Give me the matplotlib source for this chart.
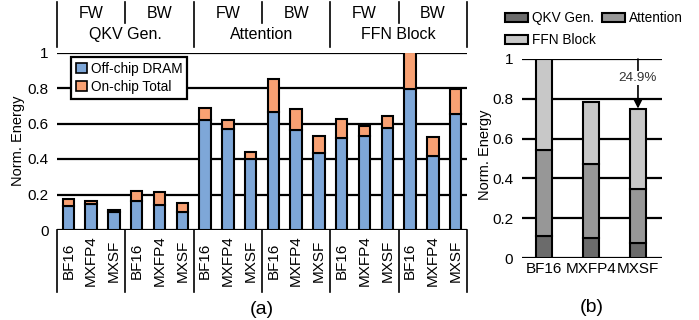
import matplotlib
matplotlib.use("Agg")
import matplotlib.pyplot as plt
from matplotlib.lines import Line2D
from matplotlib.patches import Patch
import matplotlib.transforms as mtransforms

plt.rcParams['font.family'] = ['Liberation Sans', 'DejaVu Sans']

# ---------------- data ----------------
formats = ["BF16", "MXFP4", "MXSF"]
phases = ["FW", "BW"]
blocks = ["QKV Gen.", "Attention", "FFN Block"]

# (a) per-bar values: order = block -> phase -> format
offchip_dram = [0.135, 0.145, 0.100, 0.165, 0.140, 0.100,
                0.620, 0.570, 0.400, 0.665, 0.562, 0.432,
                0.520, 0.530, 0.573, 0.795, 0.415, 0.655]
onchip_total = [0.040, 0.020, 0.015, 0.057, 0.072, 0.053,
                0.070, 0.047, 0.038, 0.187, 0.118, 0.098,
                0.107, 0.055, 0.072, 0.205, 0.110, 0.140]

# (b) breakdown per format
b_qkv = [0.110, 0.103, 0.073]
b_attn = [0.432, 0.367, 0.273]
b_ffn = [0.458, 0.312, 0.405]
reduction_label = "24.9%"

yticks = [0, 0.2, 0.4, 0.6, 0.8, 1.0]
ytick_labels = ["0", "0.2", "0.4", "0.6", "0.8", "1"]

BLUE = "#7ea7d8"
ORANGE = "#f8a173"
G_DARK = "#6b6b6b"
G_MID = "#979797"
G_LIGHT = "#c8c8c8"

fig = plt.figure(figsize=(6.99, 3.20), dpi=100)

# ---------------- (a) ----------------
axa = fig.add_axes([57 / 699, 90 / 320, 410 / 699, 177.5 / 320])
n = len(offchip_dram)
x = list(range(n))
for y in yticks:
    axa.axhline(y, color="black", lw=1.6, zorder=1)
axa.bar(x, offchip_dram, width=0.5, color=BLUE, edgecolor="black", lw=1.5, zorder=3)
axa.bar(x, onchip_total, width=0.5, bottom=offchip_dram, color=ORANGE,
        edgecolor="black", lw=1.5, zorder=3)
axa.set_xlim(-0.5, n - 0.5)
axa.set_ylim(0, 1)
for s in axa.spines.values():
    s.set_visible(False)
axa.set_yticks(yticks)
axa.set_yticklabels(ytick_labels, fontsize=11)
axa.tick_params(axis="y", length=0, pad=6)
axa.set_xticks([])
axa.set_ylabel("Norm. Energy", fontsize=10.5)
axa.yaxis.set_label_coords(-0.078, 0.5)

trans = mtransforms.blended_transform_factory(axa.transData, axa.transAxes)
# labels below bars
for i in range(n):
    axa.text(i, -0.175, formats[i % 3], rotation=90, ha="center", va="center",
             fontsize=11, transform=trans)
# dividers below
for k in range(7):
    xd = -0.5 + 3 * k
    axa.add_line(Line2D([xd, xd], [0, -0.349], color="black", lw=1.2,
                        transform=trans, clip_on=False))
# header dividers
for k in range(4):
    xd = -0.5 + 6 * k
    axa.add_line(Line2D([xd, xd], [1.031, 1.285], color="black", lw=1.2,
                        transform=trans, clip_on=False))
for k in range(3):
    xd = 2.5 + 6 * k
    axa.add_line(Line2D([xd, xd], [1.166, 1.285], color="black", lw=1.2,
                        transform=trans, clip_on=False))
for bi, b in enumerate(blocks):
    axa.text(2.5 + 6 * bi, 1.099, b, ha="center", va="center", fontsize=11.5,
             transform=trans)
    for pi, p in enumerate(phases):
        axa.text(1 + 6 * bi + 3 * pi, 1.2225, p, ha="center", va="center",
                 fontsize=11.5, transform=trans)

leg = axa.legend(handles=[Patch(facecolor=BLUE, edgecolor="black", lw=1.2),
                          Patch(facecolor=ORANGE, edgecolor="black", lw=1.2)],
                 labels=["Off-chip DRAM", "On-chip Total"],
                 loc="upper left", bbox_to_anchor=(0.034, 0.975), fontsize=9.8,
                 handlelength=0.8, handleheight=0.8, handletextpad=0.3,
                 labelspacing=0.3, borderpad=0.35, borderaxespad=0,
                 fancybox=False, framealpha=1, edgecolor="black")
leg.get_frame().set_linewidth(1.6)
leg.set_zorder(5)

axa.text(0.5, -0.45, "(a)", ha="center", va="center", fontsize=14,
         transform=axa.transAxes)

# ---------------- (b) ----------------
axb = fig.add_axes([521.7 / 699, 62 / 320, 140 / 699, 199 / 320])
xb = list(range(len(formats)))
for y in yticks:
    axb.axhline(y, color="black", lw=1.6, zorder=1)
bot2 = [a + b for a, b in zip(b_qkv, b_attn)]
h1 = axb.bar(xb, b_qkv, width=0.35, color=G_DARK, edgecolor="black", lw=1.5,
             zorder=3)
h2 = axb.bar(xb, b_attn, width=0.35, bottom=b_qkv, color=G_MID, edgecolor="black",
             lw=1.5, zorder=3)
h3 = axb.bar(xb, b_ffn, width=0.35, bottom=bot2, color=G_LIGHT, edgecolor="black",
             lw=1.5, zorder=3)
axb.set_xlim(-0.475, 2.505)
axb.set_ylim(0, 1)
for s in axb.spines.values():
    s.set_visible(False)
axb.set_yticks(yticks)
axb.set_yticklabels(ytick_labels, fontsize=11)
axb.set_xticks(xb)
axb.set_xticklabels(formats, fontsize=11)
axb.tick_params(axis="both", length=0)
axb.tick_params(axis="y", pad=6)
axb.tick_params(axis="x", pad=3)
axb.set_ylabel("Norm. Energy", fontsize=10.5)
axb.yaxis.set_label_coords(-0.212, 0.52)

total_mxsf = b_qkv[2] + b_attn[2] + b_ffn[2]
axb.annotate("", xy=(2, total_mxsf), xytext=(2, 1.0),
             arrowprops=dict(arrowstyle="-|>", color="black", lw=1.2,
                             mutation_scale=13, shrinkA=0, shrinkB=0), zorder=6)
axb.text(2.0, 0.905, reduction_label, ha="center", va="center", fontsize=9.7,
         color="#333333", zorder=7,
         bbox=dict(facecolor="white", edgecolor="none", pad=1))

# column-major fill: [QKV, FFN] in col 1, [Attention] in col 2
legb = fig.legend([h1, h3, h2], [blocks[0], blocks[2], blocks[1]],
                  loc="upper left", bbox_to_anchor=(505 / 699, 1 - 11 / 320),
                  ncol=2, fontsize=9.8, frameon=False, handlelength=1.7,
                  handleheight=0.6, handletextpad=0.3, columnspacing=0.4,
                  labelspacing=0.6, borderpad=0, borderaxespad=0)
axb.text(0.5, -0.25, "(b)", ha="center", va="center", fontsize=14,
         transform=axb.transAxes)

fig.savefig("out.png", dpi=100)
